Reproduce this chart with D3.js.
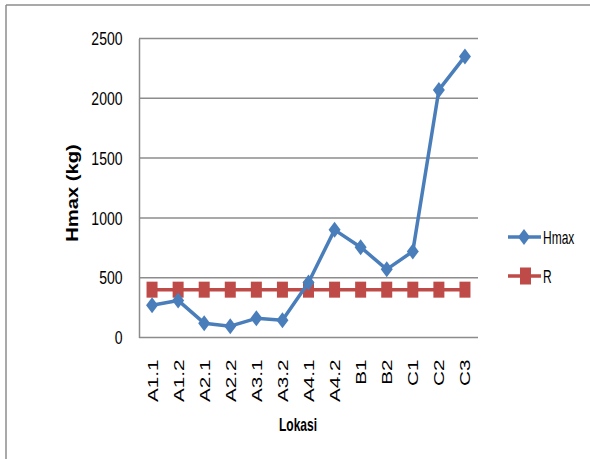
<!DOCTYPE html>
<html>
<head>
<meta charset="utf-8">
<script src="https://cdn.jsdelivr.net/npm/d3@7"></script>
<style>
  html, body { margin: 0; padding: 0; background: #fff; }
  svg { display: block; }
  text { font-family: "Liberation Sans", Arial, sans-serif; fill: #000; }
</style>
</head>
<body>
<svg id="chart" width="590" height="459"></svg>
<script>
const categories = ["A1.1","A1.2","A2.1","A2.2","A3.1","A3.2","A4.1","A4.2","B1","B2","C1","C2","C3"];
const hmaxValues = [270, 310, 120, 95, 160, 145, 460, 900, 755, 570, 720, 2070, 2350];
const rValues = [400, 400, 400, 400, 400, 400, 400, 400, 400, 400, 400, 400, 400];
const yTicks = [0, 500, 1000, 1500, 2000, 2500];
const seriesNames = ["Hmax", "R"];

const svg = d3.select("#chart");
const W = 590, H = 459;
const FONT = '"Liberation Sans", Arial, sans-serif';

// outer frame (only top and left visible in reference)
svg.append("line").attr("x1", 6).attr("y1", 5).attr("x2", W).attr("y2", 5)
  .attr("stroke", "#8c8c8c").attr("stroke-width", 1.5);
svg.append("line").attr("x1", 6).attr("y1", 5).attr("x2", 6).attr("y2", H)
  .attr("stroke", "#8c8c8c").attr("stroke-width", 1.5);

const plot = { left: 139, right: 478, top: 38.5, bottom: 337.5 };

const x = d3.scalePoint().domain(categories)
  .range([plot.left, plot.right]).padding(0.5);
const y = d3.scaleLinear().domain([0, 2500]).range([plot.bottom, plot.top]);

// gridlines
svg.append("g").selectAll("line").data(yTicks).join("line")
  .attr("x1", plot.left).attr("x2", plot.right)
  .attr("y1", d => y(d)).attr("y2", d => y(d))
  .attr("stroke", "#8c8c8c").attr("stroke-width", 1.5);

// y axis
const yAxis = svg.append("g").attr("transform", `translate(${plot.left},0)`)
  .call(d3.axisLeft(y).tickValues(yTicks).tickSize(0).tickPadding(16).tickFormat(d3.format("d")));
yAxis.select(".domain").attr("stroke", "#8c8c8c").attr("stroke-width", 1.5);
yAxis.selectAll("text")
  .attr("font-size", 14)
  .style("font-family", FONT)
  .attr("dy", null)
  .attr("y", 0)
  .attr("x", -16.5)
  .attr("dominant-baseline", "central")
  .attr("transform", "scale(1,1.27)");

// x axis labels (rotated)
const xAxis = svg.append("g").attr("transform", `translate(0,${plot.bottom})`)
  .call(d3.axisBottom(x).tickSize(0).tickPadding(0));
xAxis.select(".domain").remove();
xAxis.selectAll("text")
  .attr("font-size", 15)
  .style("font-family", FONT)
  .attr("text-anchor", "end")
  .attr("dy", null)
  .attr("x", 0).attr("y", 0)
  .attr("dominant-baseline", "central")
  .attr("transform", "translate(0,22) rotate(-90) scale(1.38,1)");

// axis titles
svg.append("text")
  .attr("transform", "translate(298,425) scale(1,1.5)")
  .attr("text-anchor", "middle").attr("dominant-baseline", "central")
  .attr("font-size", 12).attr("font-weight", "bold").text("Lokasi");
svg.append("text")
  .attr("transform", "translate(73,193) rotate(-90) scale(1.26,1)")
  .attr("text-anchor", "middle").attr("dominant-baseline", "central")
  .attr("font-size", 16).attr("font-weight", "bold").text("Hmax (kg)");

const blue = "#4a7ebb", red = "#be4b48";
const line = d3.line().x((d, i) => x(categories[i])).y(d => y(d));

const diamond = (cx, cy) => `M${cx},${cy-8} L${cx+6},${cy} L${cx},${cy+8} L${cx-6},${cy} Z`;

// R series
svg.append("path").datum(rValues).attr("d", line)
  .attr("fill", "none").attr("stroke", red).attr("stroke-width", 3.5);
svg.append("g").selectAll("rect").data(rValues).join("rect")
  .attr("x", (d, i) => x(categories[i]) - 5.5).attr("y", d => y(d) - 8)
  .attr("width", 11).attr("height", 16).attr("fill", red);

// Hmax series
svg.append("path").datum(hmaxValues).attr("d", line)
  .attr("fill", "none").attr("stroke", blue).attr("stroke-width", 3.5)
  .attr("stroke-linejoin", "round");
svg.append("g").selectAll("path").data(hmaxValues).join("path")
  .attr("d", (d, i) => diamond(x(categories[i]), y(d))).attr("fill", blue);

// legend
const legend = svg.append("g");
const legendY = [237, 276];
const colors = [blue, red];
seriesNames.forEach((name, i) => {
  const ly = legendY[i];
  legend.append("line").attr("x1", 508).attr("x2", 541).attr("y1", ly).attr("y2", ly)
    .attr("stroke", colors[i]).attr("stroke-width", 3.5);
  if (i === 0) {
    legend.append("path").attr("d", diamond(524, ly)).attr("fill", blue);
  } else {
    legend.append("rect").attr("x", 520).attr("y", ly - 8.5).attr("width", 11).attr("height", 17).attr("fill", red);
  }
  legend.append("text")
    .attr("transform", `translate(543,${ly}) scale(1,1.55)`)
    .attr("dominant-baseline", "central")
    .attr("font-size", 12).text(name);
});
</script>
</body>
</html>
